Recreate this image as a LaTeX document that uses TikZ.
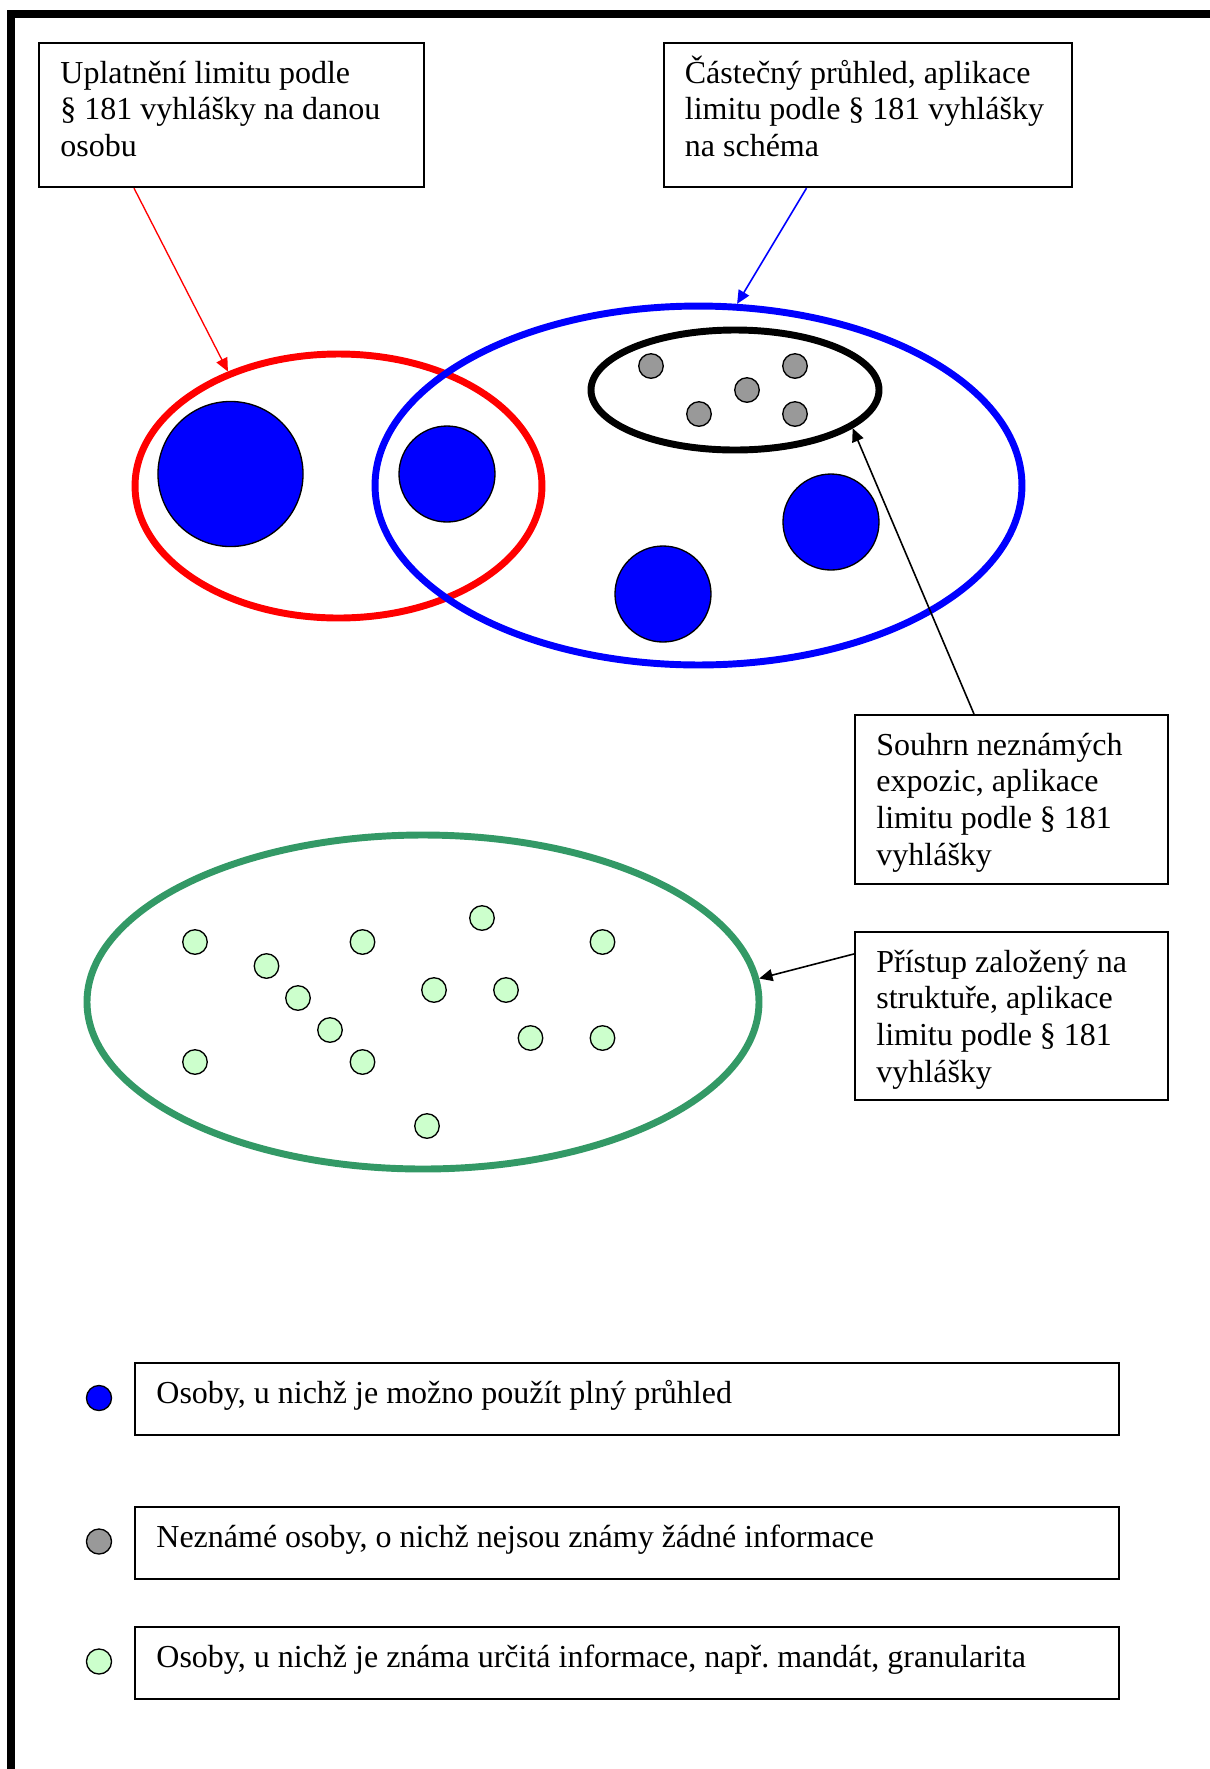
\documentclass[tikz,border=0pt]{standalone}
\usepackage{fontspec}
\setmainfont{Liberation Serif}
\usetikzlibrary{shapes.geometric, arrows.meta}
\frenchspacing

\definecolor{seagreen}{RGB}{51,153,102}
\definecolor{palegreen}{RGB}{204,255,204}
\definecolor{midgray}{RGB}{153,153,153}

\tikzset{
  textbox/.style={draw, line width=0.8pt, align=flush left, inner xsep=8pt, inner ysep=0pt,
    text height=15pt, font=\fontsize{12}{13.8}\selectfont},
  ring/.style={draw, ellipse, line width=2.6pt, inner sep=0pt},
  full/.style={draw, circle, fill=blue, line width=0.5pt, inner sep=0pt, minimum size=36pt},
  unknown/.style={draw, circle, fill=midgray, line width=0.5pt, inner sep=0pt, minimum size=9.2pt},
  known/.style={draw, circle, fill=palegreen, line width=0.5pt, inner sep=0pt, minimum size=9.2pt},
}

\begin{document}
\begin{tikzpicture}[x=0.375pt, y=-0.375pt, >={Triangle[length=5pt,width=4.5pt]}, line width=.6pt]
          \useasboundingbox (0, 0) rectangle (1210, 1769);
          % page frame
          \draw [line width=3pt] (10.5, 1769) -- (10.5, 14.3) -- (1210, 14.3);

          % captions
          \node [textbox, text width=128.4pt, text depth=39pt, anchor=north west] (limit) at (38, 42)
            {Uplatnění limitu podle\\ § 181 vyhlášky na danou\\ osobu};
          \node [textbox, text width=137.2pt, text depth=39pt, anchor=north west] (partial) at (662.5, 42)
            {Částečný průhled, aplikace\\ limitu podle § 181 vyhlášky\\ na schéma};
          \node [textbox, text width=101.4pt, text depth=48.4pt, anchor=north west] (summary) at (854, 714)
            {Souhrn neznámých\\ expozic, aplikace\\ limitu podle § 181\\ vyhlášky};
          \node [textbox, text width=101.4pt, text depth=48pt, anchor=north west] (structure) at (854, 931)
            {Přístup založený na\\ struktuře, aplikace\\ limitu podle § 181\\ vyhlášky};

          % sets
          \node [ring, draw=red, minimum width=152.6pt, minimum height=99pt] (person) at (338.5, 486) {};
          \node [ring, draw=blue, minimum width=242.6pt, minimum height=134.6pt] (scheme) at (698.5, 485.5) {};
          \node [ring, draw=black, minimum width=108pt, minimum height=45pt] (pool) at (735, 390) {};
          \node [ring, draw=seagreen, minimum width=252pt, minimum height=125.25pt] (tree) at (423, 1002) {};

          \node [full, minimum size=54.4pt] (f1) at (230.5, 474) {};
          \node [full] (f2) at (447, 474) {};
          \node [full] (f3) at (663, 594) {};
          \node [full] (f4) at (831, 522) {};

          \node [unknown] (u1) at (651, 366) {};
          \node [unknown] (u2) at (795, 366) {};
          \node [unknown] (u3) at (747, 390) {};
          \node [unknown] (u4) at (699, 414) {};
          \node [unknown] (u5) at (795, 414) {};

          \node [known] (k1) at (195, 942) {};
          \node [known] (k2) at (362.5, 942) {};
          \node [known] (k3) at (482, 918) {};
          \node [known] (k4) at (602.5, 942) {};
          \node [known] (k5) at (266.5, 966) {};
          \node [known] (k6) at (298, 998) {};
          \node [known] (k7) at (434, 990) {};
          \node [known] (k8) at (506, 990) {};
          \node [known] (k9) at (330, 1030) {};
          \node [known] (k10) at (530.5, 1038) {};
          \node [known] (k11) at (602.5, 1038) {};
          \node [known] (k12) at (195, 1062) {};
          \node [known] (k13) at (362.5, 1062) {};
          \node [known] (k14) at (427, 1126) {};

          \draw [->, red, line width=.5pt] ([xshift=36pt]limit.south west) -- (person.134);
          \draw [->, blue] ([xshift=54pt]partial.south west) -- (scheme.78.5);
          \draw [->] ([xshift=45pt]summary.north west) -- (pool.-18);
          \draw [->] ([yshift=-8.6pt]structure.north west) -- (tree.4);

          % legend
          \node [full, minimum size=9.4pt] (lfull) at (99, 1398) {};
          \node [unknown, minimum size=9.4pt] (lunknown) at (99, 1541.5) {};
          \node [known, minimum size=9.4pt] (lknown) at (99, 1661.5) {};
          \node [textbox, text width=353pt, text depth=12pt, anchor=north west] (tfull) at (134, 1362)
            {Osoby, u nichž je možno použít plný průhled};
          \node [textbox, text width=353pt, text depth=12pt, anchor=north west] (tunknown) at (134, 1506)
            {Neznámé osoby, o nichž nejsou známy žádné informace};
          \node [textbox, text width=353pt, text depth=12pt, anchor=north west] (tknown) at (134, 1626)
            {Osoby, u nichž je známa určitá informace, např. mandát, granularita};

      \end{tikzpicture}
\end{document}
